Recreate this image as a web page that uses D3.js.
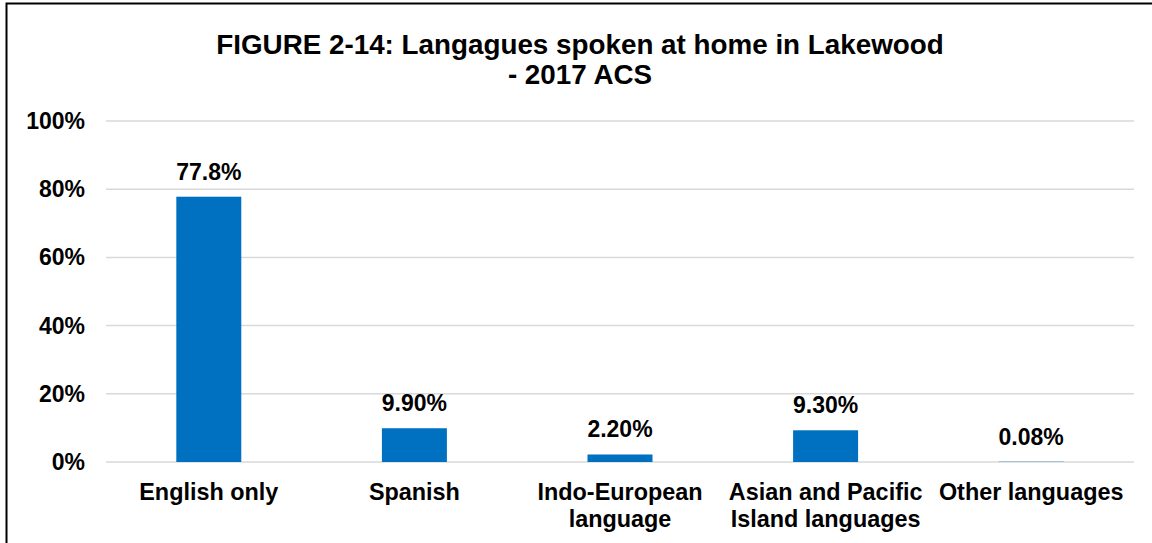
<!DOCTYPE html>
<html>
<head>
<meta charset="utf-8">
<script src="https://cdn.jsdelivr.net/npm/d3@7"></script>
<style>
  body { margin: 0; background: #fff; }
  text { font-family: "Liberation Sans", Arial, sans-serif; font-weight: bold; fill: #000; }
</style>
</head>
<body>
<svg id="chart" width="1152" height="543"></svg>
<script>
// data
var categories = ["English only", "Spanish", "Indo-European language", "Asian and Pacific Island languages", "Other languages"];
var catLines = [["English only"], ["Spanish"], ["Indo-European", "language"], ["Asian and Pacific", "Island languages"], ["Other languages"]];
var values = [77.8, 9.9, 2.2, 9.3, 0.08];
var valueLabels = ["77.8%", "9.90%", "2.20%", "9.30%", "0.08%"];
var yTicks = [0, 20, 40, 60, 80, 100];
var titleLines = ["FIGURE 2-14: Langagues spoken at home in Lakewood", "- 2017 ACS"];

var svg = d3.select("#chart");
var plot = {left: 106, right: 1134, top: 121, bottom: 462};

// frame (only left and top edges visible)
svg.append("rect").attr("x", 6.5).attr("y", 3.5).attr("width", 1200).attr("height", 600)
  .attr("fill", "none").attr("stroke", "#000").attr("stroke-width", 2);

svg.append("g").selectAll("text")
  .data(titleLines)
  .enter().append("text")
    .attr("x", 580)
    .attr("y", function(d, i) { return 54 + i * 30; })
    .attr("text-anchor", "middle")
    .style("font-size", "27.8px")
    .text(function(d) { return d; });

var x = d3.scaleBand()
  .domain(categories)
  .range([plot.left, plot.right])
  .paddingInner(0.684)
  .paddingOuter(0.342);

var y = d3.scaleLinear()
  .domain([0, 100])
  .range([plot.bottom, plot.top]);

// gridlines
svg.append("g").selectAll("line")
  .data(yTicks)
  .enter().append("line")
    .attr("x1", plot.left).attr("x2", plot.right)
    .attr("y1", function(d) { return y(d); })
    .attr("y2", function(d) { return y(d); })
    .attr("stroke", "#d9d9d9")
    .attr("stroke-width", 1.5);

// y tick labels
svg.append("g").selectAll("text")
  .data(yTicks)
  .enter().append("text")
    .attr("x", 85)
    .attr("y", function(d) { return y(d) + 8; })
    .attr("text-anchor", "end")
    .style("font-size", "23px")
    .text(function(d) { return d + "%"; });

// bars
svg.append("g").selectAll("rect")
  .data(values)
  .enter().append("rect")
    .attr("x", function(d, i) { return x(categories[i]); })
    .attr("width", x.bandwidth())
    .attr("y", function(d) { return y(d); })
    .attr("height", function(d) { return y(0) - y(d); })
    .attr("fill", "#0070c0");

// value labels
svg.append("g").selectAll("text")
  .data(values)
  .enter().append("text")
    .attr("x", function(d, i) { return x(categories[i]) + x.bandwidth() / 2; })
    .attr("y", function(d) { return y(d) - 17; })
    .attr("text-anchor", "middle")
    .style("font-size", "23px")
    .text(function(d, i) { return valueLabels[i]; });

// category labels
var cat = svg.append("g").selectAll("text")
  .data(catLines)
  .enter().append("text")
    .attr("x", function(d, i) { return x(categories[i]) + x.bandwidth() / 2; })
    .attr("y", 500)
    .attr("text-anchor", "middle")
    .style("font-size", "23.4px");
cat.selectAll("tspan")
  .data(function(d) { return d; })
  .enter().append("tspan")
    .attr("x", function() { return d3.select(this.parentNode).attr("x"); })
    .attr("dy", function(d, i) { return i === 0 ? 0 : 27; })
    .text(function(d) { return d; });
</script>
</body>
</html>
